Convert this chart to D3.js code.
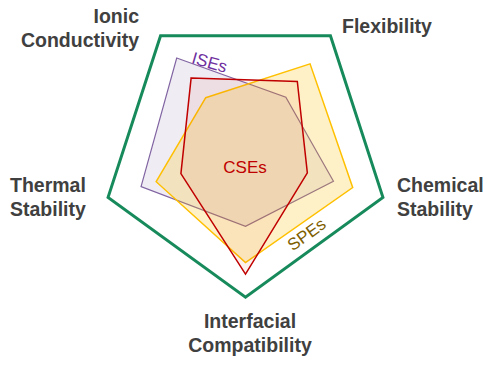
<!DOCTYPE html>
<html>
<head>
<meta charset="utf-8">
<script src="https://cdn.jsdelivr.net/npm/d3@7"></script>
<style>
  html, body { margin: 0; padding: 0; background: #fff; }
  svg { display: block; }
</style>
</head>
<body>
<svg id="chart" width="492" height="366"></svg>
<script>
// ---- data ----
const axes = ["Ionic Conductivity", "Flexibility", "Chemical Stability", "Interfacial Compatibility", "Thermal Stability"];
const axisLabelLines = [["Ionic", "Conductivity"], ["Flexibility"], ["Chemical", "Stability"], ["Interfacial", "Compatibility"], ["Thermal", "Stability"]];
const seriesNames = ["ISEs", "SPEs", "CSEs"];
const iseValues = [0.81, 0.475, 0.64, 0.51, 0.76];
const speValues = [0.47, 0.76, 0.78, 0.76, 0.65];
const cseValues = [0.64, 0.61, 0.45, 0.84, 0.47];
const maxValues = [1, 1, 1, 1, 1];

// ---- layout ----
const W = 492, H = 366;
const cx = 245.5, cy = 152.7, R = 144.5;
const svg = d3.select("#chart");
const g = svg.append("g").attr("transform", `translate(${cx},${cy})`);

const r = d3.scaleLinear().domain([0, 1]).range([0, R]);
const angle = d3.scalePoint().domain(d3.range(axes.length)).range([-Math.PI / 5, -Math.PI / 5 + 2 * Math.PI * 4 / 5]);

const radial = d3.lineRadial()
  .angle((d, i) => angle(i))
  .radius(d => r(d))
  .curve(d3.curveLinearClosed);

// outer frame
g.append("path").attr("d", radial(maxValues))
  .attr("fill", "none").attr("stroke", "#178a5b").attr("stroke-width", 3)
  .attr("stroke-linejoin", "miter");

const series = [
  { name: "ISEs", values: iseValues, fill: "rgba(128,100,162,0.12)", stroke: "#8064a2", sw: 1.2 },
  { name: "SPEs", values: speValues, fill: "rgba(255,192,0,0.22)", stroke: "#ffc000", sw: 1.5 },
  { name: "CSEs", values: cseValues, fill: "rgba(200,40,20,0.07)", stroke: "#c00000", sw: 1.5 }
];

g.selectAll("path.series").data(series).enter().append("path")
  .attr("class", "series")
  .attr("d", d => radial(d.values))
  .attr("fill", d => d.fill)
  .attr("stroke", d => d.stroke)
  .attr("stroke-width", d => d.sw)
  .attr("stroke-linejoin", "miter");

// axis labels
const labelSpec = [
  { x: 139, y: 23, anchor: "end" },
  { x: 342, y: 33, anchor: "start" },
  { x: 397, y: 192, anchor: "start" },
  { x: 250, y: 328, anchor: "middle" },
  { x: 10, y: 192, anchor: "start" }
];
axisLabelLines.forEach((lines, i) => {
  const t = svg.append("text")
    .attr("x", labelSpec[i].x).attr("y", labelSpec[i].y)
    .attr("text-anchor", labelSpec[i].anchor)
    .attr("font-family", "Liberation Sans, Arial, sans-serif")
    .attr("font-weight", "bold").attr("font-size", 19.5)
    .attr("fill", "#404040");
  lines.forEach((ln, j) => {
    t.append("tspan").attr("x", labelSpec[i].x).attr("dy", j === 0 ? 0 : 23.5).text(ln);
  });
});

// series labels
const seriesLabelSpec = [
  { name: "ISEs", x: 208, y: 68, rot: 16, color: "#7030a0" },
  { name: "SPEs", x: 310, y: 239, rot: -36, color: "#7f6000" },
  { name: "CSEs", x: 245, y: 173, rot: 0, color: "#c00000" }
];
seriesLabelSpec.forEach(s => {
  svg.append("text")
    .attr("transform", `translate(${s.x},${s.y}) rotate(${s.rot})`)
    .attr("text-anchor", "middle")
    .attr("font-family", "Liberation Sans, Arial, sans-serif")
    .attr("font-size", 17)
    .attr("fill", s.color)
    .text(s.name);
});
</script>
</body>
</html>
